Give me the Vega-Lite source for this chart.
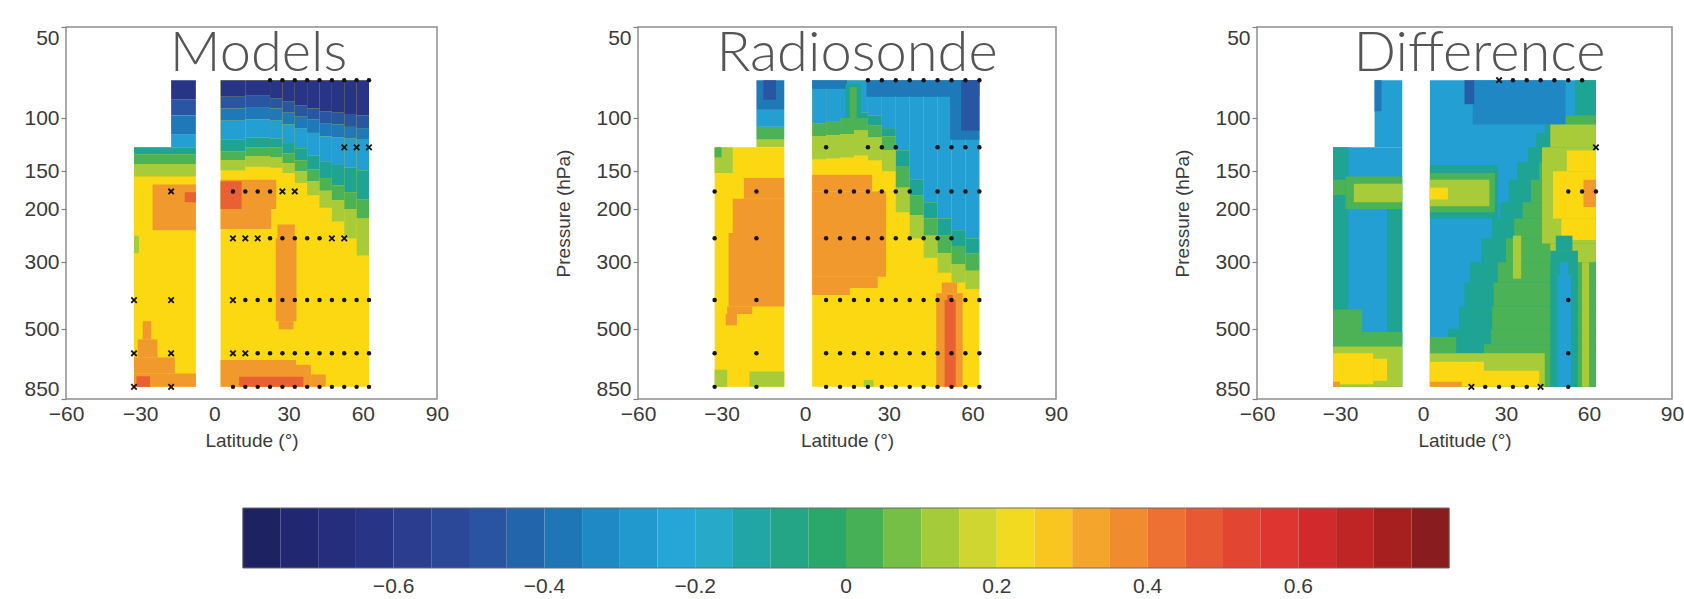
{
"$schema":"https://vega.github.io/schema/vega-lite/v6.json",
"autosize":{"type":"none"},
"padding":{"left":66,"top":27,"right":1618,"bottom":572},
"background":"white",
"datasets":{
"m":[
{"a":2.5,"b":62.5,"p":75,"q":775,"v":0.25},
{"a":2.5,"b":12.5,"p":75,"q":85,"v":-0.62},{"a":2.5,"b":12.5,"p":85,"q":93,"v":-0.47},{"a":2.5,"b":12.5,"p":93,"q":102,"v":-0.37},{"a":2.5,"b":12.5,"p":102,"q":118,"v":-0.25},{"a":2.5,"b":12.5,"p":118,"q":129,"v":-0.1},{"a":2.5,"b":12.5,"p":129,"q":138,"v":0.03},{"a":2.5,"b":12.5,"p":138,"q":149,"v":0.13},
{"a":12.5,"b":22.5,"p":75,"q":84,"v":-0.62},{"a":12.5,"b":22.5,"p":84,"q":92,"v":-0.47},{"a":12.5,"b":22.5,"p":92,"q":101,"v":-0.37},{"a":12.5,"b":22.5,"p":101,"q":116,"v":-0.25},{"a":12.5,"b":22.5,"p":116,"q":125,"v":-0.1},{"a":12.5,"b":22.5,"p":125,"q":134,"v":0.03},{"a":12.5,"b":22.5,"p":134,"q":145,"v":0.13},
{"a":22.5,"b":27.5,"p":75,"q":86,"v":-0.62},{"a":22.5,"b":27.5,"p":86,"q":93,"v":-0.47},{"a":22.5,"b":27.5,"p":93,"q":102,"v":-0.37},{"a":22.5,"b":27.5,"p":102,"q":117,"v":-0.25},{"a":22.5,"b":27.5,"p":117,"q":125,"v":-0.1},{"a":22.5,"b":27.5,"p":125,"q":135,"v":0.03},{"a":22.5,"b":27.5,"p":135,"q":146,"v":0.13},
{"a":27.5,"b":32.5,"p":75,"q":88,"v":-0.62},{"a":27.5,"b":32.5,"p":88,"q":96,"v":-0.47},{"a":27.5,"b":32.5,"p":96,"q":105,"v":-0.37},{"a":27.5,"b":32.5,"p":105,"q":121,"v":-0.25},{"a":27.5,"b":32.5,"p":121,"q":131,"v":-0.1},{"a":27.5,"b":32.5,"p":131,"q":141,"v":0.03},{"a":27.5,"b":32.5,"p":141,"q":152,"v":0.13},
{"a":32.5,"b":37.5,"p":75,"q":91,"v":-0.62},{"a":32.5,"b":37.5,"p":91,"q":99,"v":-0.47},{"a":32.5,"b":37.5,"p":99,"q":108,"v":-0.37},{"a":32.5,"b":37.5,"p":108,"q":126,"v":-0.25},{"a":32.5,"b":37.5,"p":126,"q":138,"v":-0.1},{"a":32.5,"b":37.5,"p":138,"q":150,"v":0.03},{"a":32.5,"b":37.5,"p":150,"q":164,"v":0.13},
{"a":37.5,"b":42.5,"p":75,"q":93,"v":-0.62},{"a":37.5,"b":42.5,"p":93,"q":101,"v":-0.47},{"a":37.5,"b":42.5,"p":101,"q":112,"v":-0.37},{"a":37.5,"b":42.5,"p":112,"q":133,"v":-0.25},{"a":37.5,"b":42.5,"p":133,"q":148,"v":-0.1},{"a":37.5,"b":42.5,"p":148,"q":162,"v":0.03},{"a":37.5,"b":42.5,"p":162,"q":180,"v":0.13},
{"a":42.5,"b":47.5,"p":75,"q":95,"v":-0.62},{"a":42.5,"b":47.5,"p":95,"q":104,"v":-0.47},{"a":42.5,"b":47.5,"p":104,"q":115,"v":-0.37},{"a":42.5,"b":47.5,"p":115,"q":139,"v":-0.25},{"a":42.5,"b":47.5,"p":139,"q":158,"v":-0.1},{"a":42.5,"b":47.5,"p":158,"q":174,"v":0.03},{"a":42.5,"b":47.5,"p":174,"q":198,"v":0.13},
{"a":47.5,"b":52.5,"p":75,"q":96,"v":-0.62},{"a":47.5,"b":52.5,"p":96,"q":105,"v":-0.47},{"a":47.5,"b":52.5,"p":105,"q":116,"v":-0.37},{"a":47.5,"b":52.5,"p":116,"q":143,"v":-0.25},{"a":47.5,"b":52.5,"p":143,"q":167,"v":-0.1},{"a":47.5,"b":52.5,"p":167,"q":187,"v":0.03},{"a":47.5,"b":52.5,"p":187,"q":220,"v":0.13},
{"a":52.5,"b":57.5,"p":75,"q":97,"v":-0.62},{"a":52.5,"b":57.5,"p":97,"q":107,"v":-0.47},{"a":52.5,"b":57.5,"p":107,"q":117,"v":-0.37},{"a":52.5,"b":57.5,"p":117,"q":146,"v":-0.25},{"a":52.5,"b":57.5,"p":146,"q":176,"v":-0.1},{"a":52.5,"b":57.5,"p":176,"q":200,"v":0.03},{"a":52.5,"b":57.5,"p":200,"q":250,"v":0.13},
{"a":57.5,"b":62.5,"p":75,"q":98,"v":-0.62},{"a":57.5,"b":62.5,"p":98,"q":108,"v":-0.47},{"a":57.5,"b":62.5,"p":108,"q":118,"v":-0.37},{"a":57.5,"b":62.5,"p":118,"q":149,"v":-0.25},{"a":57.5,"b":62.5,"p":149,"q":186,"v":-0.1},{"a":57.5,"b":62.5,"p":186,"q":215,"v":0.03},{"a":57.5,"b":62.5,"p":215,"q":285,"v":0.13},
{"a":2.5,"b":25,"p":160,"q":200,"v":0.35},{"a":2.5,"b":23,"p":200,"q":233,"v":0.35},{"a":2.5,"b":11,"p":162,"q":200,"v":0.46},
{"a":25.5,"b":32.5,"p":225,"q":250,"v":0.35},{"a":24.8,"b":33.2,"p":250,"q":470,"v":0.35},{"a":26,"b":32,"p":470,"q":500,"v":0.35},
{"a":2.5,"b":33,"p":632,"q":775,"v":0.35},{"a":33,"b":39,"p":655,"q":775,"v":0.35},{"a":39,"b":45,"p":705,"q":775,"v":0.35},{"a":10,"b":36,"p":718,"q":775,"v":0.46},
{"a":-17.5,"b":-7.5,"p":75,"q":87,"v":-0.62},{"a":-17.5,"b":-7.5,"p":87,"q":98,"v":-0.47},{"a":-17.5,"b":-7.5,"p":98,"q":113,"v":-0.37},{"a":-17.5,"b":-7.5,"p":113,"q":125,"v":-0.25},
{"a":-32.5,"b":-7.5,"p":125,"q":775,"v":0.25},{"a":-32.5,"b":-7.5,"p":125,"q":132,"v":-0.1},{"a":-32.5,"b":-7.5,"p":132,"q":142,"v":0.03},{"a":-32.5,"b":-7.5,"p":142,"q":156,"v":0.13},
{"a":-25,"b":-7.5,"p":166,"q":235,"v":0.35},{"a":-12,"b":-7.5,"p":176,"q":190,"v":0.46},{"a":-32.5,"b":-30.5,"p":245,"q":280,"v":0.13},
{"a":-29,"b":-25.5,"p":470,"q":540,"v":0.35},{"a":-31,"b":-23,"p":540,"q":620,"v":0.35},{"a":-32.5,"b":-16,"p":620,"q":700,"v":0.35},{"a":-32.5,"b":-7.5,"p":700,"q":775,"v":0.35},{"a":-31.5,"b":-26,"p":715,"q":775,"v":0.46}
],
"r":[
{"a":2.5,"b":62.5,"p":75,"q":775,"v":0.25},
{"a":2.5,"b":7.5,"p":75,"q":104,"v":-0.25},{"a":2.5,"b":7.5,"p":104,"q":115,"v":0.03},{"a":2.5,"b":7.5,"p":115,"q":137,"v":0.13},
{"a":7.5,"b":12.5,"p":75,"q":103,"v":-0.25},{"a":7.5,"b":12.5,"p":103,"q":114,"v":0.03},{"a":7.5,"b":12.5,"p":114,"q":136,"v":0.13},
{"a":12.5,"b":17.5,"p":75,"q":100,"v":-0.25},{"a":12.5,"b":17.5,"p":100,"q":113,"v":0.03},{"a":12.5,"b":17.5,"p":113,"q":135,"v":0.13},
{"a":17.5,"b":22.5,"p":75,"q":96,"v":-0.25},{"a":17.5,"b":22.5,"p":96,"q":100,"v":-0.1},{"a":17.5,"b":22.5,"p":100,"q":110,"v":0.03},{"a":17.5,"b":22.5,"p":110,"q":133,"v":0.13},
{"a":22.5,"b":27.5,"p":75,"q":98,"v":-0.25},{"a":22.5,"b":27.5,"p":98,"q":106,"v":-0.1},{"a":22.5,"b":27.5,"p":106,"q":116,"v":0.03},{"a":22.5,"b":27.5,"p":116,"q":138,"v":0.13},
{"a":27.5,"b":32.5,"p":75,"q":108,"v":-0.25},{"a":27.5,"b":32.5,"p":108,"q":115,"v":-0.1},{"a":27.5,"b":32.5,"p":115,"q":128,"v":0.03},{"a":27.5,"b":32.5,"p":128,"q":150,"v":0.13},
{"a":32.5,"b":37.5,"p":75,"q":128,"v":-0.25},{"a":32.5,"b":37.5,"p":128,"q":145,"v":-0.1},{"a":32.5,"b":37.5,"p":145,"q":170,"v":0.03},{"a":32.5,"b":37.5,"p":170,"q":205,"v":0.13},
{"a":37.5,"b":42.5,"p":75,"q":160,"v":-0.25},{"a":37.5,"b":42.5,"p":160,"q":180,"v":-0.1},{"a":37.5,"b":42.5,"p":180,"q":210,"v":0.03},{"a":37.5,"b":42.5,"p":210,"q":250,"v":0.13},
{"a":42.5,"b":47.5,"p":75,"q":190,"v":-0.25},{"a":42.5,"b":47.5,"p":190,"q":215,"v":-0.1},{"a":42.5,"b":47.5,"p":215,"q":245,"v":0.03},{"a":42.5,"b":47.5,"p":245,"q":290,"v":0.13},
{"a":47.5,"b":52.5,"p":75,"q":215,"v":-0.25},{"a":47.5,"b":52.5,"p":215,"q":245,"v":-0.1},{"a":47.5,"b":52.5,"p":245,"q":280,"v":0.03},{"a":47.5,"b":52.5,"p":280,"q":325,"v":0.13},
{"a":52.5,"b":57.5,"p":75,"q":235,"v":-0.25},{"a":52.5,"b":57.5,"p":235,"q":265,"v":-0.1},{"a":52.5,"b":57.5,"p":265,"q":305,"v":0.03},{"a":52.5,"b":57.5,"p":305,"q":350,"v":0.13},
{"a":57.5,"b":62.5,"p":75,"q":250,"v":-0.25},{"a":57.5,"b":62.5,"p":250,"q":280,"v":-0.1},{"a":57.5,"b":62.5,"p":280,"q":320,"v":0.03},{"a":57.5,"b":62.5,"p":320,"q":368,"v":0.13},
{"a":2.5,"b":15,"p":75,"q":80,"v":-0.37},{"a":22,"b":62.5,"p":75,"q":85,"v":-0.37},{"a":52,"b":62.5,"p":75,"q":118,"v":-0.37},{"a":56,"b":62.5,"p":75,"q":110,"v":-0.47},
{"a":14.5,"b":20,"p":77,"q":100,"v":-0.1},{"a":16,"b":18.5,"p":79,"q":100,"v":0.03},
{"a":2.5,"b":24,"p":154,"q":175,"v":0.35},{"a":2.5,"b":29,"p":175,"q":335,"v":0.35},{"a":2.5,"b":26,"p":335,"q":365,"v":0.35},{"a":2.5,"b":16,"p":365,"q":385,"v":0.35},
{"a":49,"b":54.5,"p":350,"q":380,"v":0.35},{"a":47,"b":56.5,"p":380,"q":775,"v":0.35},{"a":51,"b":53,"p":385,"q":400,"v":0.46},{"a":50,"b":54,"p":400,"q":775,"v":0.46},
{"a":21,"b":24.5,"p":735,"q":775,"v":0.13},
{"a":-17.5,"b":-7.5,"p":75,"q":94,"v":-0.37},{"a":-15,"b":-10.5,"p":75,"q":87,"v":-0.47},{"a":-17.5,"b":-7.5,"p":94,"q":107,"v":-0.25},{"a":-17.5,"b":-7.5,"p":107,"q":118,"v":0.03},{"a":-17.5,"b":-7.5,"p":118,"q":125,"v":0.13},
{"a":-32.5,"b":-7.5,"p":125,"q":775,"v":0.25},{"a":-32.5,"b":-26,"p":125,"q":152,"v":0.13},{"a":-32.5,"b":-30,"p":125,"q":135,"v":0.03},
{"a":-22,"b":-7.5,"p":158,"q":185,"v":0.35},{"a":-26,"b":-7.5,"p":185,"q":240,"v":0.35},{"a":-27.5,"b":-7.5,"p":240,"q":420,"v":0.35},{"a":-28,"b":-19,"p":420,"q":445,"v":0.35},{"a":-28.5,"b":-24.5,"p":445,"q":485,"v":0.35},
{"a":-32.5,"b":-28,"p":680,"q":775,"v":0.13},{"a":-20,"b":-7.5,"p":690,"q":775,"v":0.13}
],
"d":[
{"a":2.5,"b":62.5,"p":75,"q":775,"v":-0.25},
{"a":55,"b":62.5,"p":75,"q":98,"v":-0.1},{"a":44,"b":62.5,"p":98,"q":112,"v":-0.1},{"a":41,"b":62.5,"p":112,"q":125,"v":-0.1},{"a":38,"b":62.5,"p":125,"q":140,"v":-0.1},{"a":34,"b":62.5,"p":140,"q":160,"v":-0.1},{"a":31,"b":62.5,"p":160,"q":190,"v":-0.1},{"a":28,"b":62.5,"p":190,"q":215,"v":-0.1},{"a":25,"b":62.5,"p":215,"q":250,"v":-0.1},{"a":21,"b":62.5,"p":250,"q":300,"v":-0.1},{"a":17,"b":62.5,"p":300,"q":350,"v":-0.1},{"a":15,"b":62.5,"p":350,"q":420,"v":-0.1},{"a":13,"b":62.5,"p":420,"q":500,"v":-0.1},{"a":9,"b":62.5,"p":500,"q":560,"v":-0.1},{"a":2.5,"b":62.5,"p":560,"q":775,"v":-0.1},
{"a":51,"b":62.5,"p":98,"q":112,"v":0.03},{"a":48,"b":62.5,"p":112,"q":125,"v":0.03},{"a":45,"b":62.5,"p":125,"q":140,"v":0.03},{"a":42,"b":62.5,"p":140,"q":160,"v":0.03},{"a":39,"b":62.5,"p":160,"q":190,"v":0.03},{"a":36,"b":62.5,"p":190,"q":215,"v":0.03},{"a":33,"b":62.5,"p":215,"q":250,"v":0.03},{"a":30,"b":62.5,"p":250,"q":300,"v":0.03},{"a":27,"b":62.5,"p":300,"q":350,"v":0.03},{"a":25.5,"b":62.5,"p":350,"q":420,"v":0.03},{"a":25,"b":62.5,"p":420,"q":500,"v":0.03},{"a":24.5,"b":62.5,"p":500,"q":560,"v":0.03},{"a":22,"b":62.5,"p":560,"q":775,"v":0.03},{"a":2.5,"b":12,"p":530,"q":600,"v":0.03},
{"a":18,"b":51.5,"p":75,"q":105,"v":-0.33},{"a":15,"b":18.5,"p":75,"q":90,"v":-0.45},
{"a":2.5,"b":27,"p":143,"q":215,"v":-0.1},{"a":2.5,"b":26,"p":152,"q":205,"v":0.03},{"a":2.5,"b":24,"p":160,"q":196,"v":0.13},{"a":2.5,"b":9,"p":170,"q":186,"v":0.25},
{"a":46,"b":62.5,"p":105,"q":125,"v":0.13},{"a":43,"b":62.5,"p":125,"q":260,"v":0.13},{"a":46,"b":62.5,"p":260,"q":300,"v":0.13},
{"a":52,"b":62.5,"p":128,"q":150,"v":0.25},{"a":47,"b":62.5,"p":150,"q":215,"v":0.25},{"a":50,"b":62.5,"p":215,"q":253,"v":0.25},{"a":58,"b":62.5,"p":160,"q":197,"v":0.35},
{"a":48,"b":54,"p":245,"q":275,"v":-0.1},{"a":46,"b":56,"p":275,"q":775,"v":-0.1},{"a":49.5,"b":52.5,"p":300,"q":330,"v":-0.25},{"a":48.5,"b":53.5,"p":330,"q":775,"v":-0.25},
{"a":57.5,"b":60,"p":300,"q":775,"v":0.13},{"a":32.5,"b":35.5,"p":245,"q":340,"v":0.13},
{"a":2.5,"b":44,"p":600,"q":775,"v":0.13},{"a":2.5,"b":22,"p":640,"q":775,"v":0.25},{"a":22,"b":42,"p":685,"q":775,"v":0.25},{"a":2.5,"b":14,"p":745,"q":775,"v":0.35},
{"a":-17.5,"b":-7.5,"p":75,"q":125,"v":-0.25},{"a":-17.5,"b":-15,"p":75,"q":95,"v":-0.37},
{"a":-32.5,"b":-7.5,"p":125,"q":775,"v":-0.25},{"a":-32.5,"b":-27,"p":125,"q":560,"v":-0.1},{"a":-13,"b":-7.5,"p":200,"q":560,"v":-0.1},
{"a":-32.5,"b":-28,"p":160,"q":180,"v":0.03},{"a":-28,"b":-7.5,"p":156,"q":200,"v":0.03},{"a":-25,"b":-7.5,"p":165,"q":190,"v":0.13},
{"a":-32.5,"b":-22,"p":430,"q":775,"v":0.03},{"a":-22,"b":-7.5,"p":510,"q":775,"v":0.03},{"a":-32.5,"b":-7.5,"p":570,"q":775,"v":0.13},{"a":-32.5,"b":-18,"p":600,"q":760,"v":0.25},{"a":-18,"b":-13,"p":625,"q":740,"v":0.25},{"a":-32.5,"b":-30,"p":745,"q":775,"v":0.35}
],
"mm":[
{"x":22.5,"p":75,"k":"d"},{"x":27.5,"p":75,"k":"d"},{"x":32.5,"p":75,"k":"d"},{"x":37.5,"p":75,"k":"d"},{"x":42.5,"p":75,"k":"d"},{"x":47.5,"p":75,"k":"d"},{"x":52.5,"p":75,"k":"d"},{"x":57.5,"p":75,"k":"d"},{"x":62.5,"p":75,"k":"d"},
{"x":52.5,"p":125,"k":"x"},{"x":57.5,"p":125,"k":"x"},{"x":62.5,"p":125,"k":"x"},
{"x":-17.5,"p":175,"k":"x"},{"x":7.5,"p":175,"k":"d"},{"x":12.5,"p":175,"k":"d"},{"x":17.5,"p":175,"k":"d"},{"x":22.5,"p":175,"k":"d"},{"x":27.5,"p":175,"k":"x"},{"x":32.5,"p":175,"k":"x"},
{"x":7.5,"p":250,"k":"x"},{"x":12.5,"p":250,"k":"x"},{"x":17.5,"p":250,"k":"x"},{"x":22.5,"p":250,"k":"d"},{"x":27.5,"p":250,"k":"d"},{"x":32.5,"p":250,"k":"d"},{"x":37.5,"p":250,"k":"d"},{"x":42.5,"p":250,"k":"d"},{"x":47.5,"p":250,"k":"x"},{"x":52.5,"p":250,"k":"x"},
{"x":-32.5,"p":400,"k":"x"},{"x":-17.5,"p":400,"k":"x"},{"x":7.5,"p":400,"k":"x"},{"x":12.5,"p":400,"k":"d"},{"x":17.5,"p":400,"k":"d"},{"x":22.5,"p":400,"k":"d"},{"x":27.5,"p":400,"k":"d"},{"x":32.5,"p":400,"k":"d"},{"x":37.5,"p":400,"k":"d"},{"x":42.5,"p":400,"k":"d"},{"x":47.5,"p":400,"k":"d"},{"x":52.5,"p":400,"k":"d"},{"x":57.5,"p":400,"k":"d"},{"x":62.5,"p":400,"k":"d"},
{"x":-32.5,"p":600,"k":"x"},{"x":-17.5,"p":600,"k":"x"},{"x":7.5,"p":600,"k":"x"},{"x":12.5,"p":600,"k":"x"},{"x":17.5,"p":600,"k":"d"},{"x":22.5,"p":600,"k":"d"},{"x":27.5,"p":600,"k":"d"},{"x":32.5,"p":600,"k":"d"},{"x":37.5,"p":600,"k":"d"},{"x":42.5,"p":600,"k":"d"},{"x":47.5,"p":600,"k":"d"},{"x":52.5,"p":600,"k":"d"},{"x":57.5,"p":600,"k":"d"},{"x":62.5,"p":600,"k":"d"},
{"x":-32.5,"p":775,"k":"x"},{"x":-17.5,"p":775,"k":"x"},{"x":7.5,"p":775,"k":"d"},{"x":12.5,"p":775,"k":"d"},{"x":17.5,"p":775,"k":"d"},{"x":22.5,"p":775,"k":"d"},{"x":27.5,"p":775,"k":"d"},{"x":32.5,"p":775,"k":"d"},{"x":37.5,"p":775,"k":"d"},{"x":42.5,"p":775,"k":"d"},{"x":47.5,"p":775,"k":"d"},{"x":52.5,"p":775,"k":"d"},{"x":57.5,"p":775,"k":"d"},{"x":62.5,"p":775,"k":"d"}
],
"mr":[
{"x":22.5,"p":75,"k":"d"},{"x":27.5,"p":75,"k":"d"},{"x":32.5,"p":75,"k":"d"},{"x":37.5,"p":75,"k":"d"},{"x":42.5,"p":75,"k":"d"},{"x":47.5,"p":75,"k":"d"},{"x":52.5,"p":75,"k":"d"},{"x":57.5,"p":75,"k":"d"},{"x":62.5,"p":75,"k":"d"},
{"x":7.5,"p":125,"k":"d"},{"x":22.5,"p":125,"k":"d"},{"x":27.5,"p":125,"k":"d"},{"x":32.5,"p":125,"k":"d"},{"x":47.5,"p":125,"k":"d"},{"x":52.5,"p":125,"k":"d"},{"x":57.5,"p":125,"k":"d"},{"x":62.5,"p":125,"k":"d"},
{"x":-32.5,"p":175,"k":"d"},{"x":-17.5,"p":175,"k":"d"},{"x":7.5,"p":175,"k":"d"},{"x":12.5,"p":175,"k":"d"},{"x":17.5,"p":175,"k":"d"},{"x":22.5,"p":175,"k":"d"},{"x":27.5,"p":175,"k":"d"},{"x":32.5,"p":175,"k":"d"},{"x":37.5,"p":175,"k":"d"},{"x":47.5,"p":175,"k":"d"},{"x":52.5,"p":175,"k":"d"},{"x":57.5,"p":175,"k":"d"},{"x":62.5,"p":175,"k":"d"},
{"x":-32.5,"p":250,"k":"d"},{"x":-17.5,"p":250,"k":"d"},{"x":7.5,"p":250,"k":"d"},{"x":12.5,"p":250,"k":"d"},{"x":17.5,"p":250,"k":"d"},{"x":22.5,"p":250,"k":"d"},{"x":27.5,"p":250,"k":"d"},{"x":32.5,"p":250,"k":"d"},{"x":37.5,"p":250,"k":"d"},{"x":42.5,"p":250,"k":"d"},{"x":47.5,"p":250,"k":"d"},{"x":52.5,"p":250,"k":"d"},
{"x":-32.5,"p":400,"k":"d"},{"x":-17.5,"p":400,"k":"d"},{"x":7.5,"p":400,"k":"d"},{"x":12.5,"p":400,"k":"d"},{"x":17.5,"p":400,"k":"d"},{"x":22.5,"p":400,"k":"d"},{"x":27.5,"p":400,"k":"d"},{"x":32.5,"p":400,"k":"d"},{"x":37.5,"p":400,"k":"d"},{"x":42.5,"p":400,"k":"d"},{"x":47.5,"p":400,"k":"d"},{"x":52.5,"p":400,"k":"d"},{"x":57.5,"p":400,"k":"d"},{"x":62.5,"p":400,"k":"d"},
{"x":-32.5,"p":600,"k":"d"},{"x":-17.5,"p":600,"k":"d"},{"x":7.5,"p":600,"k":"d"},{"x":12.5,"p":600,"k":"d"},{"x":17.5,"p":600,"k":"d"},{"x":22.5,"p":600,"k":"d"},{"x":27.5,"p":600,"k":"d"},{"x":32.5,"p":600,"k":"d"},{"x":37.5,"p":600,"k":"d"},{"x":42.5,"p":600,"k":"d"},{"x":47.5,"p":600,"k":"d"},{"x":52.5,"p":600,"k":"d"},{"x":57.5,"p":600,"k":"d"},{"x":62.5,"p":600,"k":"d"},
{"x":-32.5,"p":775,"k":"d"},{"x":-17.5,"p":775,"k":"d"},{"x":7.5,"p":775,"k":"d"},{"x":12.5,"p":775,"k":"d"},{"x":17.5,"p":775,"k":"d"},{"x":22.5,"p":775,"k":"d"},{"x":27.5,"p":775,"k":"d"},{"x":32.5,"p":775,"k":"d"},{"x":37.5,"p":775,"k":"d"},{"x":42.5,"p":775,"k":"d"},{"x":47.5,"p":775,"k":"d"},{"x":52.5,"p":775,"k":"d"},{"x":57.5,"p":775,"k":"d"},{"x":62.5,"p":775,"k":"d"}
],
"md":[
{"x":27.5,"p":75,"k":"x"},{"x":32.5,"p":75,"k":"d"},{"x":37.5,"p":75,"k":"d"},{"x":42.5,"p":75,"k":"d"},{"x":47.5,"p":75,"k":"d"},{"x":52.5,"p":75,"k":"d"},{"x":57.5,"p":75,"k":"d"},
{"x":62.5,"p":125,"k":"x"},
{"x":52.5,"p":175,"k":"d"},{"x":57.5,"p":175,"k":"d"},{"x":62.5,"p":175,"k":"d"},
{"x":52.5,"p":400,"k":"d"},{"x":52.5,"p":600,"k":"d"},
{"x":17.5,"p":775,"k":"x"},{"x":22.5,"p":775,"k":"d"},{"x":27.5,"p":775,"k":"d"},{"x":32.5,"p":775,"k":"d"},{"x":37.5,"p":775,"k":"d"},{"x":42.5,"p":775,"k":"x"},{"x":52.5,"p":775,"k":"d"}
],
"cb":[
{"a":-0.8,"b":-0.75,"v":-0.775},{"a":-0.75,"b":-0.7,"v":-0.725},{"a":-0.7,"b":-0.65,"v":-0.675},{"a":-0.65,"b":-0.6,"v":-0.625},{"a":-0.6,"b":-0.55,"v":-0.575},{"a":-0.55,"b":-0.5,"v":-0.525},{"a":-0.5,"b":-0.45,"v":-0.475},{"a":-0.45,"b":-0.4,"v":-0.425},{"a":-0.4,"b":-0.35,"v":-0.375},{"a":-0.35,"b":-0.3,"v":-0.325},{"a":-0.3,"b":-0.25,"v":-0.275},{"a":-0.25,"b":-0.2,"v":-0.225},{"a":-0.2,"b":-0.15,"v":-0.175},{"a":-0.15,"b":-0.1,"v":-0.125},{"a":-0.1,"b":-0.05,"v":-0.075},{"a":-0.05,"b":0,"v":-0.025},
{"a":0,"b":0.05,"v":0.025},{"a":0.05,"b":0.1,"v":0.075},{"a":0.1,"b":0.15,"v":0.125},{"a":0.15,"b":0.2,"v":0.175},{"a":0.2,"b":0.25,"v":0.225},{"a":0.25,"b":0.3,"v":0.275},{"a":0.3,"b":0.35,"v":0.325},{"a":0.35,"b":0.4,"v":0.375},{"a":0.4,"b":0.45,"v":0.425},{"a":0.45,"b":0.5,"v":0.475},{"a":0.5,"b":0.55,"v":0.525},{"a":0.55,"b":0.6,"v":0.575},{"a":0.6,"b":0.65,"v":0.625},{"a":0.65,"b":0.7,"v":0.675},{"a":0.7,"b":0.75,"v":0.725},{"a":0.75,"b":0.8,"v":0.775}
],
"cbt":[{"t":-0.6},{"t":-0.4},{"t":-0.2},{"t":0},{"t":0.2},{"t":0.4},{"t":0.6}]
},
"concat":[
{"width":371,"height":372,"title":{"text":"Models","dx":7},
 "layer":[
  {"data":{"name":"m"},"mark":{"type":"rect"},"encoding":{
   "x":{"field":"a","type":"quantitative","scale":{"domain":[-60,90],"nice":false,"zero":false},"axis":{"values":[-60,-30,0,30,60,90],"format":"d","title":"Latitude (°)","ticks":false,"domain":false,"grid":false,"labelPadding":4,"labelFlush":false,"titlePadding":7}},
   "x2":{"field":"b"},
   "y":{"field":"p","type":"quantitative","scale":{"type":"log","domain":[50,850],"reverse":true,"nice":false},"axis":{"values":[50,100,150,200,300,500,850],"format":"d","title":null,"tickSize":5,"domain":false,"grid":false,"labelPadding":2,"labelOverlap":false,"labelFlush":4}},
   "y2":{"field":"q"},
   "color":{"field":"v","type":"quantitative","legend":null,"scale":{"domain":[-0.8,-0.7,-0.6,-0.5,-0.4,-0.3,-0.2,-0.1,0,0.1,0.2,0.25,0.3,0.4,0.5,0.6,0.7,0.8],"range":["#1b1f5c","#232b78","#29388b","#2c4c9c","#1f6db0","#1e92cc","#28acd9","#1fa393","#2ea95e","#8dc63f","#e6db2c","#fcd813","#f6b42a","#ee7d31","#e54d34","#dc2d2f","#b52222","#7a1a1a"],"interpolate":"rgb"}}}},
  {"data":{"name":"mm"},"transform":[{"filter":"datum.k==='d'"}],"mark":{"type":"point","filled":true,"shape":"circle","size":20,"color":"#141414","opacity":1},"encoding":{"x":{"field":"x","type":"quantitative"},"y":{"field":"p","type":"quantitative"}}},
  {"data":{"name":"mm"},"transform":[{"filter":"datum.k==='x'"}],"mark":{"type":"point","filled":false,"shape":"M-1,-1L1,1M1,-1L-1,1","size":30,"color":"#141414","strokeWidth":1.8,"opacity":1},"encoding":{"x":{"field":"x","type":"quantitative"},"y":{"field":"p","type":"quantitative"}}}
 ]},
{"width":418,"height":372,"title":{"text":"Radiosonde","dx":10},
 "layer":[
  {"data":{"name":"r"},"mark":{"type":"rect"},"encoding":{
   "x":{"field":"a","type":"quantitative","scale":{"domain":[-60,90],"nice":false,"zero":false},"axis":{"values":[-60,-30,0,30,60,90],"format":"d","title":"Latitude (°)","ticks":false,"domain":false,"grid":false,"labelPadding":4,"labelFlush":false,"titlePadding":7}},
   "x2":{"field":"b"},
   "y":{"field":"p","type":"quantitative","scale":{"type":"log","domain":[50,850],"reverse":true,"nice":false},"axis":{"values":[50,100,150,200,300,500,850],"format":"d","title":"Pressure (hPa)","titlePadding":22,"tickSize":5,"domain":false,"grid":false,"labelPadding":2,"labelOverlap":false,"labelFlush":4}},
   "y2":{"field":"q"},
   "color":{"field":"v","type":"quantitative","legend":null,"scale":{"domain":[-0.8,-0.7,-0.6,-0.5,-0.4,-0.3,-0.2,-0.1,0,0.1,0.2,0.25,0.3,0.4,0.5,0.6,0.7,0.8],"range":["#1b1f5c","#232b78","#29388b","#2c4c9c","#1f6db0","#1e92cc","#28acd9","#1fa393","#2ea95e","#8dc63f","#e6db2c","#fcd813","#f6b42a","#ee7d31","#e54d34","#dc2d2f","#b52222","#7a1a1a"],"interpolate":"rgb"}}}},
  {"data":{"name":"mr"},"transform":[{"filter":"datum.k==='d'"}],"mark":{"type":"point","filled":true,"shape":"circle","size":20,"color":"#141414","opacity":1},"encoding":{"x":{"field":"x","type":"quantitative"},"y":{"field":"p","type":"quantitative"}}}
 ]},
{"width":415,"height":372,"title":{"text":"Difference","dx":15},
 "layer":[
  {"data":{"name":"d"},"mark":{"type":"rect"},"encoding":{
   "x":{"field":"a","type":"quantitative","scale":{"domain":[-60,90],"nice":false,"zero":false},"axis":{"values":[-60,-30,0,30,60,90],"format":"d","title":"Latitude (°)","ticks":false,"domain":false,"grid":false,"labelPadding":4,"labelFlush":false,"titlePadding":7}},
   "x2":{"field":"b"},
   "y":{"field":"p","type":"quantitative","scale":{"type":"log","domain":[50,850],"reverse":true,"nice":false},"axis":{"values":[50,100,150,200,300,500,850],"format":"d","title":"Pressure (hPa)","titlePadding":22,"tickSize":5,"domain":false,"grid":false,"labelPadding":2,"labelOverlap":false,"labelFlush":4}},
   "y2":{"field":"q"},
   "color":{"field":"v","type":"quantitative","legend":null,"scale":{"domain":[-0.8,-0.7,-0.6,-0.5,-0.4,-0.3,-0.2,-0.1,0,0.1,0.2,0.25,0.3,0.4,0.5,0.6,0.7,0.8],"range":["#1b1f5c","#232b78","#29388b","#2c4c9c","#1f6db0","#1e92cc","#28acd9","#1fa393","#2ea95e","#8dc63f","#e6db2c","#fcd813","#f6b42a","#ee7d31","#e54d34","#dc2d2f","#b52222","#7a1a1a"],"interpolate":"rgb"}}}},
  {"data":{"name":"md"},"transform":[{"filter":"datum.k==='d'"}],"mark":{"type":"point","filled":true,"shape":"circle","size":20,"color":"#141414","opacity":1},"encoding":{"x":{"field":"x","type":"quantitative"},"y":{"field":"p","type":"quantitative"}}},
  {"data":{"name":"md"},"transform":[{"filter":"datum.k==='x'"}],"mark":{"type":"point","filled":false,"shape":"M-1,-1L1,1M1,-1L-1,1","size":30,"color":"#141414","strokeWidth":1.8,"opacity":1},"encoding":{"x":{"field":"x","type":"quantitative"},"y":{"field":"p","type":"quantitative"}}}
 ]},
{"width":371,"height":60,"view":{"stroke":null},
 "layer":[
  {"data":{"name":"cb"},"mark":{"type":"rect","clip":false},"encoding":{
   "x":{"field":"a","type":"quantitative","scale":{"domain":[-1.03448,-0.54244],"nice":false,"zero":false},"axis":null},
   "x2":{"field":"b"},
   "color":{"field":"v","type":"quantitative","legend":null,"scale":{"domain":[-0.8,-0.7,-0.6,-0.5,-0.4,-0.3,-0.2,-0.1,0,0.1,0.2,0.25,0.3,0.4,0.5,0.6,0.7,0.8],"range":["#1b1f5c","#232b78","#29388b","#2c4c9c","#1f6db0","#1e92cc","#28acd9","#1fa393","#2ea95e","#8dc63f","#e6db2c","#fcd813","#f6b42a","#ee7d31","#e54d34","#dc2d2f","#b52222","#7a1a1a"],"interpolate":"rgb"}}}},
  {"data":{"values":[{"a":-0.8,"b":0.8}]},"mark":{"type":"rect","clip":false,"fillOpacity":0,"stroke":"#6a6a6a","strokeWidth":1},"encoding":{"x":{"field":"a","type":"quantitative"},"x2":{"field":"b"}}},
  {"data":{"name":"cbt"},"mark":{"type":"text","clip":false,"baseline":"bottom","dy":29,"font":"Liberation Sans","fontSize":21,"color":"#3a3a3a"},"encoding":{"x":{"field":"t","type":"quantitative"},"y":{"value":"height"},"text":{"field":"t","type":"quantitative","format":"~g"}}}
 ]}
],
"columns":3,
"bounds":"flush",
"spacing":{"row":109,"column":201},
"config":{
 "view":{"stroke":"#8f8f8f","strokeWidth":1.5},
 "axis":{"labelFont":"Liberation Sans","labelFontSize":21,"labelColor":"#3a3a3a","titleFont":"Liberation Sans","titleFontSize":19,"titleFontWeight":"normal","titleColor":"#3a3a3a","tickColor":"#808080","tickWidth":1.2},
 "title":{"font":"Lato","fontSize":56,"fontWeight":300,"color":"#555555","anchor":"middle","baseline":"alphabetic","offset":-57}
}
}
